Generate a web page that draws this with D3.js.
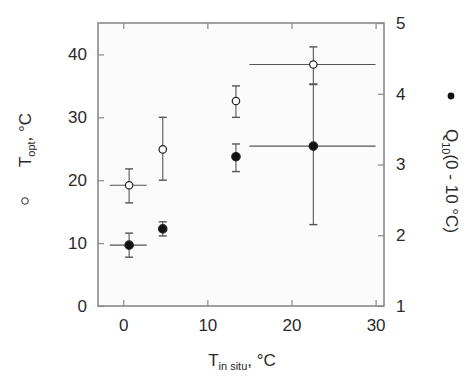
<!DOCTYPE html>
<html>
<head>
<meta charset="utf-8">
<script src="https://cdn.jsdelivr.net/npm/d3@7"></script>
<style>
  body { margin: 0; background: #fff; }
  svg { font-family: "Liberation Sans", Arial, sans-serif; }
</style>
</head>
<body>
<div id="chart"></div>
<script>
// in situ temperature of each site (°C) with its range where one is drawn
const tInSitu = [0.7, 4.7, 13.4, 22.6];
const tInSituLo = [-1.6, null, null, 15];
const tInSituHi = [2.8, null, null, 30];

// optimum temperature, open circles, left axis
const tOpt = [19.2, 24.9, 32.6, 38.4];
const tOptLo = [16.4, 20, 30, 35.3];
const tOptHi = [21.8, 30, 35, 41.2];

// Q10 (0 - 10 °C), filled circles, right axis
const q10 = [1.86, 2.09, 3.11, 3.26];
const q10Lo = [1.69, 1.99, 2.9, 2.15];
const q10Hi = [2.03, 2.19, 3.29, 4.13];

const xTicks = [0, 10, 20, 30];
const yLeftTicks = [0, 10, 20, 30, 40];
const yRightTicks = [1, 2, 3, 4, 5];

const width = 468, height = 376;
const margin = { left: 98, right: 84, top: 23, bottom: 70 };

const svg = d3.select("#chart").append("svg")
    .attr("width", width)
    .attr("height", height);

const x = d3.scaleLinear().domain([-3, 31]).range([margin.left, width - margin.right]);
const yL = d3.scaleLinear().domain([0, 45]).range([height - margin.bottom, margin.top]);
const yR = d3.scaleLinear().domain([1, 5]).range([height - margin.bottom, margin.top]);

const axisColor = "#8a8a8a";
const textColor = "#2a2a2a";

// plot background
svg.append("rect")
    .attr("x", x.range()[0]).attr("y", yL.range()[1])
    .attr("width", x.range()[1] - x.range()[0])
    .attr("height", yL.range()[0] - yL.range()[1])
    .attr("fill", "#fbfbfb");

// axes, ticks drawn inward
const styleAxis = g => {
    g.select(".domain").remove();
    g.selectAll(".tick line").attr("stroke", axisColor).attr("stroke-width", 1.2);
    g.selectAll(".tick text").attr("fill", textColor).attr("font-size", 17);
};

svg.append("g")
    .attr("transform", `translate(0, ${yL.range()[0]})`)
    .call(d3.axisBottom(x).tickValues(xTicks).tickSize(-6).tickPadding(13).tickFormat(d3.format("d")))
    .call(styleAxis);

svg.append("g")
    .attr("transform", `translate(0, ${yL.range()[1]})`)
    .call(d3.axisTop(x).tickValues(xTicks).tickSize(-6).tickFormat(""))
    .call(styleAxis);

svg.append("g")
    .attr("transform", `translate(${x.range()[0]}, 0)`)
    .call(d3.axisLeft(yL).tickValues(yLeftTicks).tickSize(-6).tickPadding(11).tickFormat(d3.format("d")))
    .call(styleAxis);

svg.append("g")
    .attr("transform", `translate(${x.range()[1]}, 0)`)
    .call(d3.axisRight(yR).tickValues(yRightTicks).tickSize(-6).tickPadding(12).tickFormat(d3.format("d")))
    .call(styleAxis);

// frame
svg.append("rect")
    .attr("x", x.range()[0]).attr("y", yL.range()[1])
    .attr("width", x.range()[1] - x.range()[0])
    .attr("height", yL.range()[0] - yL.range()[1])
    .attr("fill", "none")
    .attr("stroke", axisColor)
    .attr("stroke-width", 1.6);

const errColor = "#555";
const capW = 4;

function drawSeries(vals, lo, hi, yScale, filled) {
    const g = svg.append("g");
    vals.forEach((v, i) => {
        const cx = x(tInSitu[i]);
        // vertical error bar with caps
        g.append("line")
            .attr("x1", cx).attr("x2", cx)
            .attr("y1", yScale(lo[i])).attr("y2", yScale(hi[i]))
            .attr("stroke", errColor).attr("stroke-width", 1.1);
        [lo[i], hi[i]].forEach(e => {
            g.append("line")
                .attr("x1", cx - capW).attr("x2", cx + capW)
                .attr("y1", yScale(e)).attr("y2", yScale(e))
                .attr("stroke", errColor).attr("stroke-width", 1.4);
        });
        // horizontal range of in situ temperature
        if (tInSituLo[i] != null) {
            g.append("line")
                .attr("x1", x(tInSituLo[i])).attr("x2", x(tInSituHi[i]))
                .attr("y1", yScale(v)).attr("y2", yScale(v))
                .attr("stroke", errColor).attr("stroke-width", 1.1);
        }
    });
    g.selectAll("circle")
        .data(vals)
        .enter().append("circle")
        .attr("cx", (d, i) => x(tInSitu[i]))
        .attr("cy", d => yScale(d))
        .attr("r", filled ? 4.2 : 3.7)
        .attr("fill", filled ? "#111" : "#fff")
        .attr("stroke", "#222")
        .attr("stroke-width", 1.2);
}

drawSeries(tOpt, tOptLo, tOptHi, yL, false);
drawSeries(q10, q10Lo, q10Hi, yR, true);

// left axis title: open marker + T_opt, °C
svg.append("circle")
    .attr("cx", 25).attr("cy", 201).attr("r", 3.3)
    .attr("fill", "none").attr("stroke", textColor).attr("stroke-width", 1);

const leftTitle = svg.append("text")
    .attr("transform", "translate(31, 140) rotate(-90)")
    .attr("text-anchor", "middle")
    .attr("font-size", 17)
    .attr("fill", textColor);
leftTitle.append("tspan").text("T");
leftTitle.append("tspan").attr("dy", 4).attr("font-size", 11).text("opt");
leftTitle.append("tspan").attr("dy", -4).text(", °C");

// right axis title: filled marker + Q10(0 - 10 °C)
svg.append("circle")
    .attr("cx", 451).attr("cy", 96).attr("r", 3.4)
    .attr("fill", "#111");

const rightTitle = svg.append("text")
    .attr("transform", "translate(446, 181) rotate(90)")
    .attr("text-anchor", "middle")
    .attr("font-size", 17)
    .attr("fill", textColor);
rightTitle.append("tspan").text("Q");
rightTitle.append("tspan").attr("dy", 4).attr("font-size", 11).text("10");
rightTitle.append("tspan").attr("dy", -4).text("(0 - 10 °C)");

// x axis title: T_in situ, °C
const xTitle = svg.append("text")
    .attr("x", 242).attr("y", 366)
    .attr("text-anchor", "middle")
    .attr("font-size", 17)
    .attr("fill", textColor);
xTitle.append("tspan").text("T");
xTitle.append("tspan").attr("dy", 4).attr("font-size", 11).text("in situ");
xTitle.append("tspan").attr("dy", -4).text(", °C");
</script>
</body>
</html>
